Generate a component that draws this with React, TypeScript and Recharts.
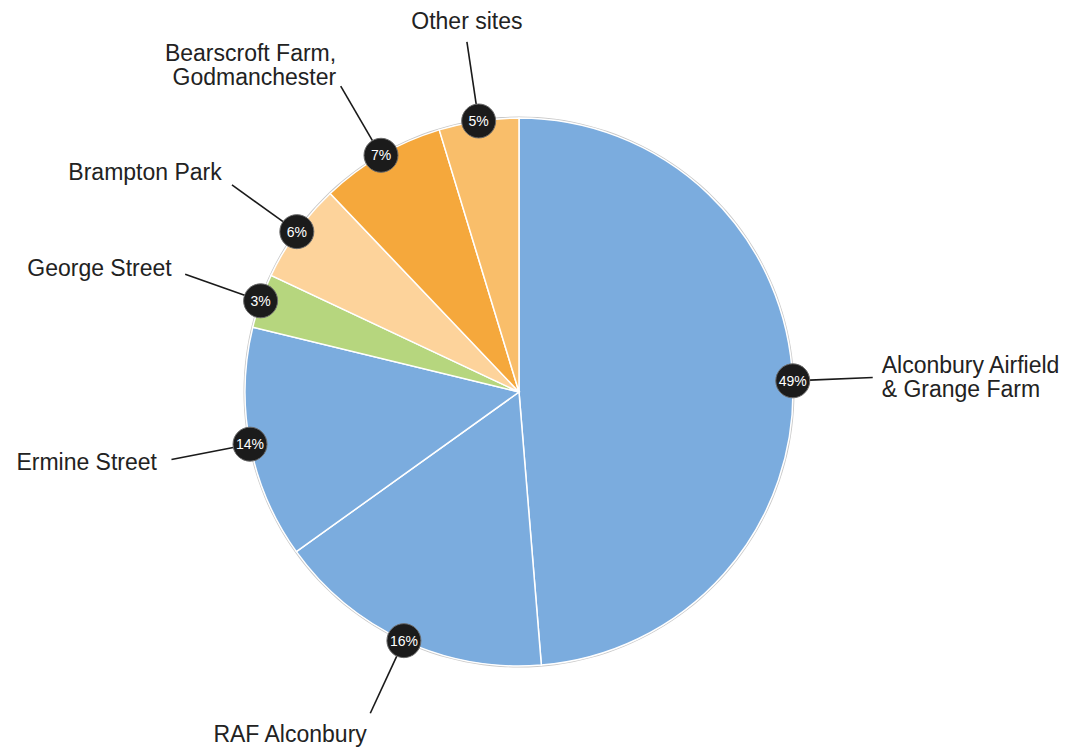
import React from "react";
import { PieChart, Pie, Cell } from "recharts";

const sites = [
  "Alconbury Airfield\n& Grange Farm",
  "RAF Alconbury",
  "Ermine Street",
  "George Street",
  "Brampton Park",
  "Bearscroft Farm,\nGodmanchester",
  "Other sites",
];
const shares = [48.7, 16.4, 13.7, 3.2, 5.9, 7.4, 4.7];
const percentLabels = ["49%", "16%", "14%", "3%", "6%", "7%", "5%"];
const colors = ["#7BACDE", "#7BACDE", "#7BACDE", "#B6D67E", "#FDD39B", "#F5A83C", "#F9BE6A"];

const data = sites.map((name, i) => ({ name, value: shares[i] }));

const RAD = Math.PI / 180;

const renderLabel = (props: any) => {
  const { cx, cy, midAngle, outerRadius, index } = props;
  const cos = Math.cos(-midAngle * RAD);
  const sin = Math.sin(-midAngle * RAD);
  const bx = cx + outerRadius * cos;
  const by = cy + outerRadius * sin;
  const br = 17;
  const r1 = outerRadius + br;
  const r2 = outerRadius + 80;
  const x1 = cx + r1 * cos;
  const y1 = cy + r1 * sin;
  const x2 = cx + r2 * cos;
  const y2 = cy + r2 * sin;
  const s = cos;
  const c = -sin;
  const anchor = Math.abs(s) > 0.3 ? (s > 0 ? "start" : "end") : "middle";
  const tx =
    x2 +
    (anchor === "middle" ? 0 : s > 0 ? s * s * 8 + 1 : -(s * s * 14 + 1));
  const tyCenter = y2 - 21 * Math.sign(c) * Math.min(1, Math.pow(Math.abs(c), 1.3) * 1.25);
  const lines = sites[index].split("\n");
  const lh = 24;
  const startY = tyCenter - ((lines.length - 1) * lh) / 2;
  return (
    <g key={`lab-${index}`}>
      <line x1={x1} y1={y1} x2={x2} y2={y2} stroke="#1a1a1a" strokeWidth={1.6} />
      <circle cx={bx} cy={by} r={br} fill="#1b1b1b" stroke="#6a6a6a" strokeWidth={1} />
      <text
        x={bx}
        y={by}
        textAnchor="middle"
        dominantBaseline="central"
        fill="#ffffff"
        fontSize={14}
        fontFamily="Liberation Sans, Arial, sans-serif"
      >
        {percentLabels[index]}
      </text>
      <text
        x={tx}
        y={startY}
        textAnchor={anchor}
        fill="#222222"
        fontSize={23}
        fontFamily="Liberation Sans, Arial, sans-serif"
      >
        {lines.map((ln, k) => (
          <tspan key={k} x={tx} y={startY + k * lh} dominantBaseline="central">
            {ln}
          </tspan>
        ))}
      </text>
    </g>
  );
};

export default function App() {
  return (
    <div style={{ position: "absolute", left: 0, top: 0, width: 1069, height: 747, background: "#fff" }}>
      <PieChart width={1069} height={747} margin={{ top: 0, right: 0, bottom: 0, left: 0 }}>
        <Pie
          data={[{ name: "ring", value: 1 }]}
          dataKey="value"
          cx={519}
          cy={392}
          innerRadius={274}
          outerRadius={275.5}
          startAngle={90}
          endAngle={-270}
          fill="#c9c9c9"
          stroke="none"
          isAnimationActive={false}
        />
        <Pie
          data={data}
          dataKey="value"
          nameKey="name"
          cx={519}
          cy={392}
          outerRadius={274}
          startAngle={90}
          endAngle={-270}
          stroke="#ffffff"
          strokeWidth={1.5}
          label={renderLabel}
          labelLine={false}
          isAnimationActive={false}
        >
          {data.map((d, i) => (
            <Cell key={d.name} fill={colors[i]} />
          ))}
        </Pie>
      </PieChart>
    </div>
  );
}
